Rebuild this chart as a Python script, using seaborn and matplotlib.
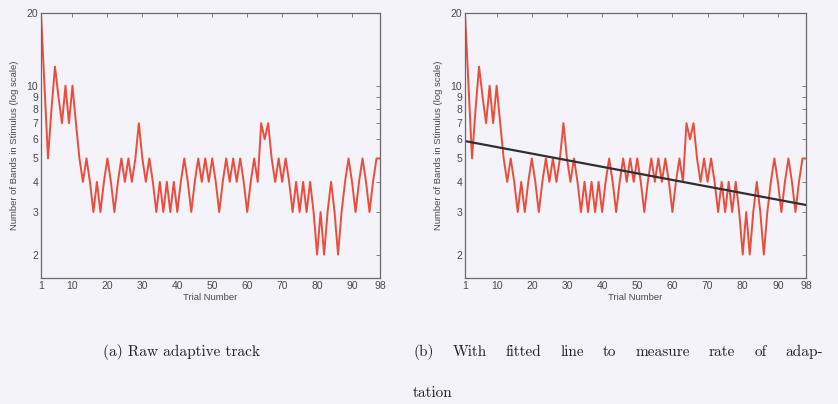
import numpy as np
import pandas as pd
import matplotlib
matplotlib.use("Agg")
import matplotlib.pyplot as plt
import seaborn as sns
from matplotlib.ticker import FixedLocator, FixedFormatter, NullLocator

# ---------------- data ----------------
trial_numbers = list(range(1, 99))
bands = [20, 10, 5, 8, 12, 9, 7, 10, 7, 10,
         7, 5, 4, 5, 4, 3, 4, 3, 4, 5,
         4, 3, 4, 5, 4, 5, 4, 5, 7, 5,
         4, 5, 4, 3, 4, 3, 4, 3, 4, 3,
         4, 5, 4, 3, 4, 5, 4, 5, 4, 5,
         4, 3, 4, 5, 4, 5, 4, 5, 4, 3,
         4, 5, 4, 7, 6, 7, 5, 4, 5, 4,
         5, 4, 3, 4, 3, 4, 3, 4, 3, 2,
         3, 2, 3, 4, 3, 2, 3, 4, 5, 4,
         3, 4, 5, 4, 3, 4, 5, 5]
x_ticks = [1, 10, 20, 30, 40, 50, 60, 70, 80, 90, 98]
x_tick_labels = ["1", "10", "20", "30", "40", "50", "60", "70", "80", "90", "98"]
y_ticks = [2, 3, 4, 5, 6, 7, 8, 9, 10, 20]
y_tick_labels = ["2", "3", "4", "5", "6", "7", "8", "9", "10", "20"]
x_label = "Trial Number"
y_label = "Number of Bands in Stimulus (log scale)"
caption_a = "(a) Raw adaptive track"
caption_b_1 = "(b) With fitted line to measure rate of adap-"
caption_b_2 = "tation"

df = pd.DataFrame({"trial": trial_numbers, "bands": bands})

# fitted exponential (straight line on log axis)
slope, intercept = np.polyfit(df["trial"], np.log(df["bands"]), 1)
fit_df = pd.DataFrame({"trial": [trial_numbers[0], trial_numbers[-1]]})
fit_df["bands"] = np.exp(intercept + slope * fit_df["trial"])

# ---------------- style ----------------
sns.set_theme(style="white")
plt.rcParams["font.family"] = ["Liberation Sans", "DejaVu Sans"]

BG = "#f3f3f9"
TRACK = "#ea4d3c"
FIT = "#2f2f33"
AXC = "#6a6a6a"
TXT = "#4a4a4a"

fig = plt.figure(figsize=(8.38, 4.04), dpi=100, facecolor=BG)

W, H = 838.0, 404.0
panels = [(41, 380), (465, 806)]
top_px, bot_px = 13, 278
axes = []
for (l, r) in panels:
    ax = fig.add_axes([l / W, 1 - bot_px / H, (r - l) / W, (bot_px - top_px) / H])
    ax.set_facecolor(BG)
    axes.append(ax)

for i, ax in enumerate(axes):
    sns.lineplot(data=df, x="trial", y="bands", ax=ax, color=TRACK,
                 linewidth=1.4, estimator=None, sort=False)
    if i == 1:
        sns.lineplot(data=fit_df, x="trial", y="bands", ax=ax, color=FIT,
                     linewidth=1.6, estimator=None)
    ax.set_yscale("log")
    ax.set_xlim(1, 98)
    ax.set_ylim(1.6, 20)
    ax.xaxis.set_major_locator(FixedLocator(x_ticks))
    ax.xaxis.set_major_formatter(FixedFormatter(x_tick_labels))
    ax.yaxis.set_major_locator(FixedLocator(y_ticks))
    ax.yaxis.set_major_formatter(FixedFormatter(y_tick_labels))
    ax.yaxis.set_minor_locator(NullLocator())
    ax.xaxis.set_minor_locator(NullLocator())
    ax.tick_params(which="major", direction="in", top=True, right=True,
                   length=3, width=0.6, color=AXC, labelsize=7.5,
                   labelcolor=TXT, pad=2)
    for s in ax.spines.values():
        s.set_visible(True)
        s.set_color(AXC)
        s.set_linewidth(0.9)
    ax.set_xlabel(x_label, fontsize=6.8, color=TXT)
    ax.set_ylabel(y_label, fontsize=6.8, color=TXT)
    ax.xaxis.set_label_coords(0.5, -0.058)
    ax.yaxis.set_label_coords(-0.064, 0.5)
    ax.grid(False)

cap_font = ["cmr10", "DejaVu Serif"]
cap_kw = dict(fontsize=11, family=cap_font, color="#222222", va="center", ha="left")
fig.text(103 / W, 1 - 352 / H, caption_a, **cap_kw)

# justified first line of caption (b), spanning 413 px .. 823 px
words = caption_b_1.split(" ")
word_texts = [fig.text(0, 1 - 352 / H, w, **cap_kw) for w in words]
fig.canvas.draw()
renderer = fig.canvas.get_renderer()
widths = [t.get_window_extent(renderer).width for t in word_texts]
left, right = 413.0, 823.0
gap = (right - left - sum(widths)) / (len(words) - 1)
xpos = left
for t, wdt in zip(word_texts, widths):
    t.set_x(xpos / W)
    xpos += wdt + gap
fig.text(413 / W, 1 - 393 / H, caption_b_2, **cap_kw)

fig.savefig("out.png", dpi=100, facecolor=BG)
